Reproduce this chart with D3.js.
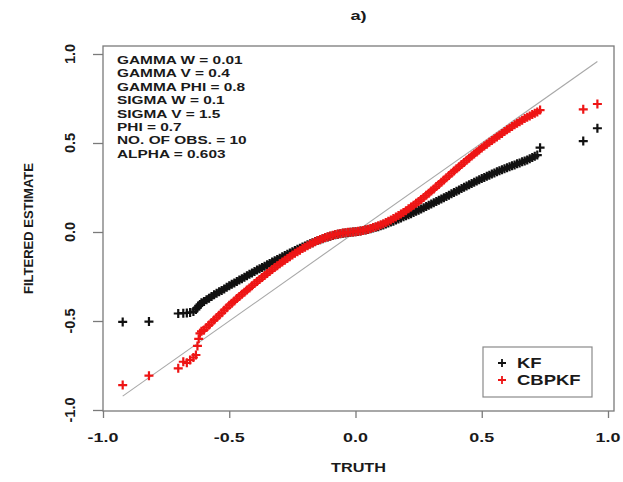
<!DOCTYPE html>
<html>
<head>
<meta charset="utf-8">
<script src="https://cdn.jsdelivr.net/npm/d3@7"></script>
<style>
  html, body { margin: 0; padding: 0; background: #fff; }
  svg { display: block; }
  text { font-family: "Liberation Sans", Arial, Helvetica, sans-serif; fill: #1a1a1a; }
</style>
</head>
<body>
<svg id="chart" width="623" height="482"></svg>
<script>
// True state values (x) shared by both filters
const truth = [
  -0.922, -0.818, -0.702, -0.682, -0.668, -0.655, -0.642, -0.632, -0.626, -0.621, -0.616,
  -0.61, -0.60, -0.59, -0.58, -0.57, -0.56, -0.55, -0.54, -0.53, -0.52,
  -0.51, -0.50, -0.49, -0.48, -0.47, -0.46, -0.45, -0.44, -0.43, -0.42,
  -0.41, -0.40, -0.39, -0.38, -0.37, -0.36, -0.35, -0.34, -0.33, -0.32,
  -0.31, -0.30, -0.29, -0.28, -0.27, -0.26, -0.25, -0.24, -0.23, -0.22,
  -0.21, -0.20, -0.19, -0.18, -0.17, -0.16, -0.15, -0.14, -0.13, -0.12,
  -0.11, -0.10, -0.09, -0.08, -0.07, -0.06, -0.05, -0.04, -0.03, -0.02,
  -0.01, 0.00, 0.01, 0.02, 0.03, 0.04, 0.05, 0.06, 0.07, 0.08,
  0.09, 0.10, 0.11, 0.12, 0.13, 0.14, 0.15, 0.16, 0.17, 0.18,
  0.19, 0.20, 0.21, 0.22, 0.23, 0.24, 0.25, 0.26, 0.27, 0.28,
  0.29, 0.30, 0.31, 0.32, 0.33, 0.34, 0.35, 0.36, 0.37, 0.38,
  0.39, 0.40, 0.41, 0.42, 0.43, 0.44, 0.45, 0.46, 0.47, 0.48,
  0.49, 0.50, 0.51, 0.52, 0.53, 0.54, 0.55, 0.56, 0.57, 0.58,
  0.59, 0.60, 0.61, 0.62, 0.63, 0.64, 0.65, 0.66, 0.67, 0.68,
  0.69, 0.70, 0.71, 0.72, 0.731, 0.902, 0.958
];

// Kalman filter estimates
const kf = [
  -0.505, -0.503, -0.458, -0.456, -0.455, -0.452, -0.447, -0.435, -0.425, -0.415, -0.408,
  -0.398, -0.390, -0.381, -0.372, -0.362, -0.352, -0.344, -0.336, -0.328, -0.320,
  -0.311, -0.302, -0.294, -0.286, -0.278, -0.270, -0.262, -0.254, -0.246, -0.238,
  -0.230, -0.222, -0.214, -0.207, -0.199, -0.192, -0.184, -0.177, -0.169, -0.162,
  -0.154, -0.147, -0.139, -0.132, -0.125, -0.118, -0.111, -0.104, -0.097, -0.091,
  -0.084, -0.078, -0.072, -0.066, -0.060, -0.054, -0.048, -0.043, -0.038, -0.033,
  -0.028, -0.024, -0.020, -0.016, -0.013, -0.010, -0.007, -0.005, -0.003, -0.002,
  0.000, 0.001, 0.003, 0.005, 0.008, 0.011, 0.014, 0.018, 0.022, 0.026,
  0.030, 0.035, 0.040, 0.045, 0.050, 0.056, 0.061, 0.067, 0.073, 0.079,
  0.085, 0.091, 0.097, 0.103, 0.110, 0.116, 0.122, 0.129, 0.136, 0.143,
  0.150, 0.157, 0.164, 0.171, 0.178, 0.186, 0.193, 0.200, 0.207, 0.215,
  0.222, 0.229, 0.236, 0.244, 0.251, 0.258, 0.265, 0.272, 0.279, 0.286,
  0.293, 0.300, 0.306, 0.313, 0.319, 0.326, 0.332, 0.338, 0.344, 0.350,
  0.355, 0.361, 0.366, 0.372, 0.377, 0.383, 0.388, 0.394, 0.399, 0.405,
  0.411, 0.418, 0.425, 0.432, 0.474, 0.511, 0.583
];

// CBPKF estimates
const cbpkf = [
  -0.860, -0.807, -0.766, -0.729, -0.735, -0.719, -0.705, -0.691, -0.640, -0.600, -0.569,
  -0.558, -0.550, -0.536, -0.522, -0.508, -0.495, -0.481, -0.468, -0.454, -0.440,
  -0.426, -0.412, -0.400, -0.387, -0.374, -0.362, -0.350, -0.338, -0.326, -0.314,
  -0.302, -0.290, -0.278, -0.267, -0.255, -0.244, -0.233, -0.222, -0.211, -0.200,
  -0.189, -0.179, -0.169, -0.159, -0.149, -0.139, -0.129, -0.120, -0.111, -0.102,
  -0.093, -0.085, -0.077, -0.069, -0.062, -0.055, -0.048, -0.042, -0.036, -0.031,
  -0.026, -0.022, -0.018, -0.014, -0.011, -0.008, -0.006, -0.004, -0.002, -0.001,
  0.000, 0.002, 0.004, 0.006, 0.009, 0.012, 0.016, 0.020, 0.025, 0.030,
  0.035, 0.041, 0.047, 0.054, 0.061, 0.068, 0.076, 0.084, 0.092, 0.101,
  0.110, 0.120, 0.130, 0.140, 0.150, 0.161, 0.172, 0.183, 0.194, 0.206,
  0.218, 0.230, 0.242, 0.255, 0.267, 0.280, 0.292, 0.305, 0.317, 0.330,
  0.342, 0.355, 0.367, 0.379, 0.391, 0.403, 0.415, 0.427, 0.438, 0.450,
  0.461, 0.472, 0.483, 0.493, 0.504, 0.514, 0.524, 0.534, 0.544, 0.554,
  0.564, 0.574, 0.583, 0.593, 0.602, 0.611, 0.620, 0.628, 0.637, 0.645,
  0.652, 0.660, 0.667, 0.674, 0.685, 0.689, 0.719
];

const tickValues = [-1.0, -0.5, 0.0, 0.5, 1.0];
const tickLabels = ["-1.0", "-0.5", "0.0", "0.5", "1.0"];

const annotations = [
  "GAMMA W = 0.01",
  "GAMMA V = 0.4",
  "GAMMA PHI = 0.8",
  "SIGMA W = 0.1",
  "SIGMA V = 1.5",
  "PHI = 0.7",
  "NO. OF OBS. = 10",
  "ALPHA = 0.603"
];

const seriesNames = ["KF", "CBPKF"];
const seriesColors = ["#111111", "#ee1515"];

const svg = d3.select("#chart");

// plot region
const box = { left: 103, right: 614, top: 46, bottom: 411 };
const x = d3.scaleLinear().domain([-1, 1]).range([103, 608]);
const y = d3.scaleLinear().domain([-1, 1]).range([410, 54]);

// horizontally widened text helper
function label(g, str, px, py, opts) {
  const o = Object.assign({ size: 13, sx: 1.4, anchor: "start", weight: "bold", rotate: 0 }, opts || {});
  const t = g.append("g")
    .attr("transform", `translate(${px},${py}) scale(${o.sx},1)` + (o.rotate ? ` rotate(${o.rotate})` : ""));
  t.append("text")
    .attr("text-anchor", o.anchor)
    .attr("font-size", o.size)
    .attr("font-weight", o.weight)
    .text(str);
  return t;
}

// identity reference line over the range of the truth values
const tExt = d3.extent(truth);
svg.append("line")
  .attr("x1", x(tExt[0])).attr("y1", y(tExt[0]))
  .attr("x2", x(tExt[1])).attr("y2", y(tExt[1]))
  .attr("stroke", "#a8a8a8").attr("stroke-width", 1.1);

// "+" symbols
const half = 4.5;
function crosses(values, color) {
  svg.append("g")
    .selectAll("path")
    .data(truth.map((t, i) => [t, values[i]]))
    .join("path")
    .attr("d", d => {
      const cx = x(d[0]), cy = y(d[1]);
      return `M${cx - half},${cy}H${cx + half}M${cx},${cy - half}V${cy + half}`;
    })
    .attr("stroke", color)
    .attr("stroke-width", 2.2)
    .attr("fill", "none");
}
crosses(kf, seriesColors[0]);
crosses(cbpkf, seriesColors[1]);

// frame
svg.append("rect")
  .attr("x", box.left).attr("y", box.top)
  .attr("width", box.right - box.left).attr("height", box.bottom - box.top)
  .attr("fill", "none").attr("stroke", "#7a7a7a").attr("stroke-width", 1.3);

// bottom axis
const xAxis = svg.append("g").attr("transform", `translate(0,${box.bottom})`)
  .call(d3.axisBottom(x).tickValues(tickValues).tickSize(7).tickFormat(""));
xAxis.select(".domain").remove();
xAxis.selectAll("line").attr("stroke", "#7a7a7a").attr("stroke-width", 1.3);
tickValues.forEach((v, i) => label(svg, tickLabels[i], x(v), 442, { size: 13, sx: 1.38, anchor: "middle" }));

// left axis
const yAxis = svg.append("g").attr("transform", `translate(${box.left},0)`)
  .call(d3.axisLeft(y).tickValues(tickValues).tickSize(10).tickFormat(""));
yAxis.select(".domain").remove();
yAxis.selectAll("line").attr("stroke", "#7a7a7a").attr("stroke-width", 1.3);
tickValues.forEach((v, i) => label(svg, tickLabels[i], 75, y(v), { size: 14.5, sx: 1, anchor: "middle", rotate: -90 }));

// axis titles and panel title
label(svg, "TRUTH", (box.left + box.right) / 2, 472, { size: 13, sx: 1.25, anchor: "middle" });
label(svg, "FILTERED ESTIMATE", 33, (box.top + box.bottom) / 2, { size: 13, sx: 1, anchor: "middle", rotate: -90 });
label(svg, "a)", (box.left + box.right) / 2, 19.5, { size: 13, sx: 1.4, anchor: "middle" });

// parameter block
annotations.forEach((s, i) => label(svg, s, 117, 64 + i * 13.4, { size: 11, sx: 1.4 }));

// legend
const lg = svg.append("g");
lg.append("rect").attr("x", 483).attr("y", 347).attr("width", 109).attr("height", 50)
  .attr("fill", "#fff").attr("stroke", "#8a8a8a").attr("stroke-width", 1.2);
seriesNames.forEach((n, i) => {
  const cy = 363 + i * 17;
  lg.append("path")
    .attr("d", `M${502 - 4},${cy}H${502 + 4}M502,${cy - 4}V${cy + 4}`)
    .attr("stroke", seriesColors[i]).attr("stroke-width", 1.8);
  label(lg, n, 517, cy + 5, { size: 14, sx: 1.32 });
});
</script>
</body>
</html>
